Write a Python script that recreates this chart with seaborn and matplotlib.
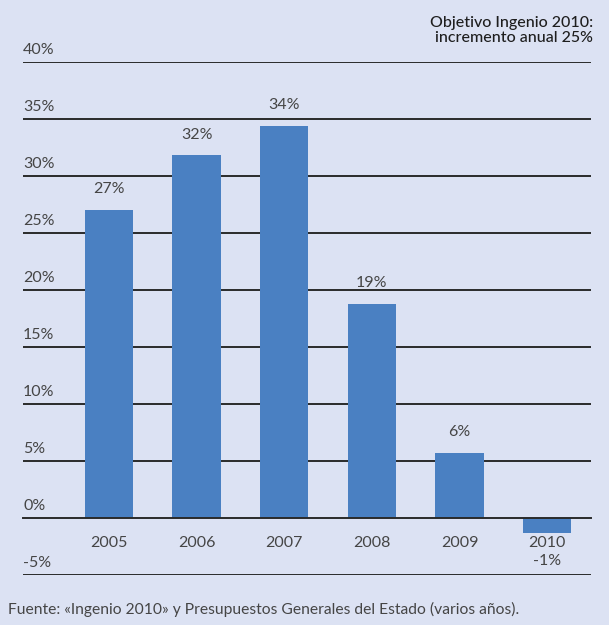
import matplotlib.pyplot as plt
import seaborn as sns
import pandas as pd

years = ['2005', '2006', '2007', '2008', '2009', '2010']
values = [27.0, 31.8, 34.4, 18.8, 5.7, -1.3]
labels = ['27%', '32%', '34%', '19%', '6%', '-1%']
yticks = [-5, 0, 5, 10, 15, 20, 25, 30, 35, 40]

bg = '#dce2f3'
bar_color = '#4a80c2'
txt = '#454545'
line = '#2a2a2a'

sns.set_style('white')
plt.rcParams['font.family'] = ['Lato', 'DejaVu Sans']

df = pd.DataFrame({'year': years, 'value': values})

fig = plt.figure(figsize=(6.09, 6.25), dpi=100)
fig.patch.set_facecolor(bg)
ax = fig.add_axes([0.0378, 0.08, 0.9326, 0.8208])
ax.set_facecolor(bg)

sns.barplot(data=df, x='year', y='value', color=bar_color, width=0.55,
            saturation=1, linewidth=0, ax=ax)

ax.set_xlim(-0.98, 5.5)
ax.set_ylim(-5, 40)
for s in ['top', 'right', 'left']:
    ax.spines[s].set_visible(False)
ax.spines['bottom'].set_position(('data', 0))
ax.spines['bottom'].set_color(line)
ax.spines['bottom'].set_linewidth(1.4)

for v in yticks:
    if v != 0:
        ax.axhline(v, color=line, lw=1.4, zorder=0)
    ax.text(0.0, v + 0.4, '{}%'.format(v), transform=ax.get_yaxis_transform(),
            ha='left', va='bottom', fontsize=11.5, color=txt)
ax.set_yticks([])

ax.set_xticks(range(len(years)))
ax.set_xticklabels(years, fontsize=11.5, color=txt)
ax.set_xticks([i - 0.5 for i in range(len(years) + 1)], minor=True)
ax.tick_params(axis='x', which='major', length=0, pad=13)
ax.tick_params(axis='x', which='minor', length=6, width=1.2, color=line, direction='out')
ax.set_xlabel('')
ax.set_ylabel('')

for i, (v, lab) in enumerate(zip(values, labels)):
    if v >= 0:
        ax.annotate(lab, (i, v), xytext=(0, 15), textcoords='offset points',
                    ha='center', va='center', fontsize=11.5, color=txt)
    else:
        ax.annotate(lab, (i, 0), xytext=(0, -31), textcoords='offset points',
                    ha='center', va='center', fontsize=11.5, color=txt)

fig.text(0.974, 0.975, 'Objetivo Ingenio 2010:\nincremento anual 25%',
         ha='right', va='top', fontsize=11.5, color='#1e1e1e', fontweight='medium',
         linespacing=1.1)
fig.text(0.013, 0.025, 'Fuente: «Ingenio 2010» y Presupuestos Generales del Estado (varios años).',
         ha='left', va='center', fontsize=11.25, color=txt)

fig.savefig('out.png', dpi=100, facecolor=bg)
